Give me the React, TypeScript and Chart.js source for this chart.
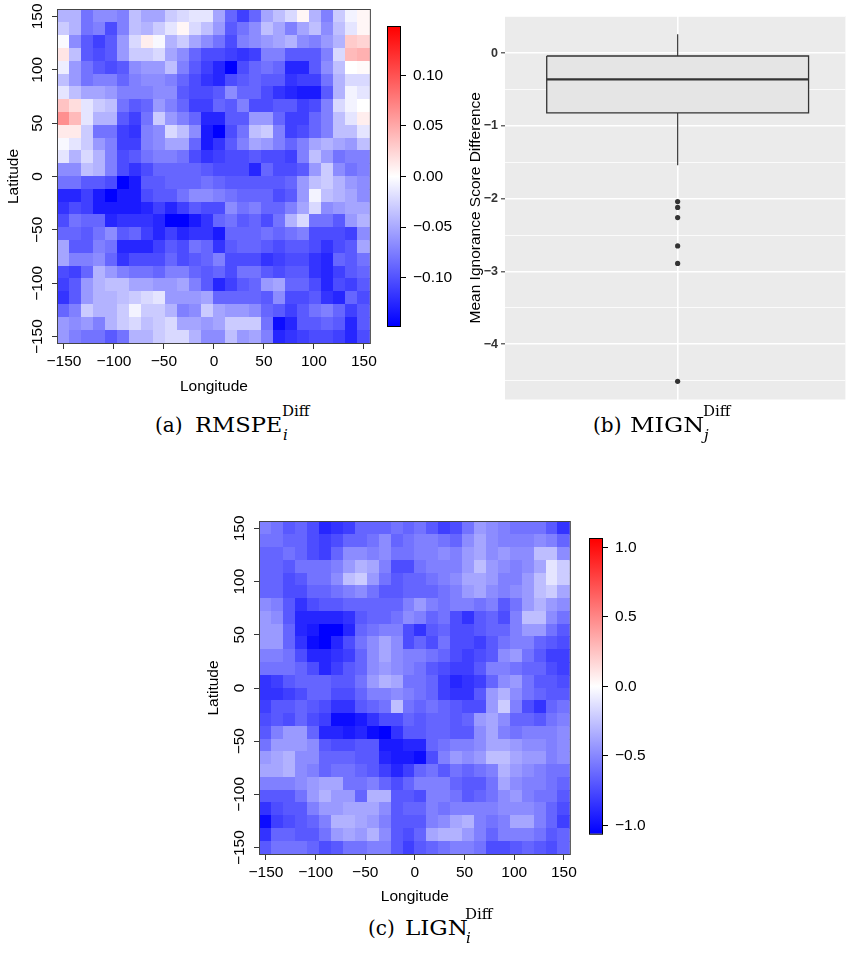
import React, { useEffect, useRef } from 'react';
import { Chart, registerables } from 'chart.js';

Chart.register(...registerables);

const SANS = '"Liberation Sans", Arial, Helvetica, sans-serif';
const SERIF = '"DejaVu Serif", serif';
Chart.defaults.font.family = SANS;

// ---------- shared grid ----------
const LON_CENTERS = [-150, -138, -126, -114, -102, -90, -78, -66, -54, -42, -30, -18, -6, 6, 18, 30, 42, 54, 66, 78, 90, 102, 114, 126, 138, 150];
const LAT_CENTERS = [150, 138, 126, 114, 102, 90, 78, 66, 54, 42, 30, 18, 6, -6, -18, -30, -42, -54, -66, -78, -90, -102, -114, -126, -138, -150];
const CELL_HALF = 6;
const MAP_EXTENT = 156;
const MAP_TICKS = [-150, -100, -50, 0, 50, 100, 150];

// ---------- (a) RMSPE difference, rows north -> south, columns west -> east ----------
const RMSPE_N150 = [-0.044,-0.044,-0.081,-0.067,-0.067,-0.074,-0.037,-0.052,-0.052,-0.030,-0.022,-0.015,-0.015,-0.052,-0.089,-0.111,-0.089,-0.052,-0.037,-0.022,0.005,-0.044,-0.074,-0.030,-0.007,0.005];
const RMSPE_N138 = [-0.030,-0.044,-0.081,-0.074,-0.104,-0.074,-0.037,-0.044,-0.030,-0.015,0.005,-0.022,-0.037,-0.059,-0.096,-0.081,-0.067,-0.037,-0.052,-0.074,-0.052,-0.037,-0.067,-0.037,-0.015,0.005];
const RMSPE_N126 = [-0.003,-0.067,-0.096,-0.111,-0.096,-0.059,-0.022,0.010,-0.004,-0.044,-0.030,-0.052,-0.067,-0.081,-0.104,-0.074,-0.067,-0.059,-0.052,-0.044,-0.067,-0.074,-0.059,-0.044,0.030,0.025];
const RMSPE_N114 = [0.015,-0.037,-0.096,-0.104,-0.096,-0.059,-0.030,-0.030,-0.022,-0.052,-0.067,-0.089,-0.104,-0.104,-0.111,-0.118,-0.111,-0.074,-0.074,-0.096,-0.096,-0.096,-0.074,-0.022,0.040,0.045];
const RMSPE_N102 = [-0.010,-0.059,-0.081,-0.096,-0.104,-0.096,-0.067,-0.059,-0.059,-0.037,-0.074,-0.096,-0.111,-0.126,-0.148,-0.104,-0.089,-0.081,-0.089,-0.126,-0.126,-0.096,-0.067,-0.037,0.000,0.003];
const RMSPE_N090 = [-0.037,-0.059,-0.081,-0.074,-0.074,-0.089,-0.074,-0.067,-0.067,-0.074,-0.089,-0.104,-0.118,-0.126,-0.104,-0.096,-0.089,-0.096,-0.096,-0.118,-0.111,-0.111,-0.081,-0.044,-0.022,-0.022];
const RMSPE_N078 = [-0.015,-0.037,-0.052,-0.052,-0.059,-0.074,-0.074,-0.074,-0.067,-0.067,-0.096,-0.104,-0.104,-0.096,-0.067,-0.089,-0.089,-0.104,-0.118,-0.126,-0.133,-0.133,-0.096,-0.044,-0.007,-0.015];
const RMSPE_N066 = [0.035,0.020,-0.015,-0.030,-0.037,-0.081,-0.096,-0.089,-0.059,-0.074,-0.089,-0.111,-0.111,-0.089,-0.096,-0.074,-0.104,-0.104,-0.096,-0.096,-0.111,-0.104,-0.074,-0.022,-0.007,0.000];
const RMSPE_N054 = [0.065,0.040,-0.015,-0.044,-0.044,-0.096,-0.111,-0.081,-0.030,-0.059,-0.074,-0.089,-0.126,-0.126,-0.096,-0.096,-0.059,-0.059,-0.089,-0.111,-0.111,-0.089,-0.074,-0.037,-0.015,0.010];
const RMSPE_N042 = [0.012,0.012,-0.030,-0.081,-0.081,-0.111,-0.118,-0.074,-0.067,-0.022,-0.037,-0.067,-0.133,-0.148,-0.104,-0.081,-0.037,-0.030,-0.074,-0.111,-0.104,-0.089,-0.074,-0.037,-0.037,-0.015];
const RMSPE_N030 = [-0.004,-0.015,-0.030,-0.059,-0.074,-0.111,-0.111,-0.074,-0.067,-0.052,-0.052,-0.089,-0.133,-0.118,-0.096,-0.074,-0.052,-0.059,-0.074,-0.089,-0.074,-0.052,-0.044,-0.052,-0.059,-0.037];
const RMSPE_N018 = [-0.015,-0.044,-0.022,-0.044,-0.074,-0.104,-0.096,-0.081,-0.074,-0.074,-0.081,-0.104,-0.118,-0.111,-0.104,-0.104,-0.096,-0.104,-0.104,-0.111,-0.074,-0.037,-0.059,-0.081,-0.074,-0.074];
const RMSPE_N006 = [-0.067,-0.067,-0.037,-0.044,-0.074,-0.104,-0.118,-0.104,-0.089,-0.089,-0.089,-0.089,-0.096,-0.104,-0.104,-0.104,-0.126,-0.089,-0.104,-0.104,-0.096,-0.059,-0.030,-0.067,-0.081,-0.074];
const RMSPE_S006 = [-0.081,-0.081,-0.096,-0.096,-0.104,-0.148,-0.133,-0.096,-0.096,-0.089,-0.089,-0.089,-0.081,-0.089,-0.096,-0.096,-0.096,-0.096,-0.096,-0.089,-0.059,-0.037,-0.030,-0.044,-0.059,-0.067];
const RMSPE_S018 = [-0.126,-0.126,-0.111,-0.133,-0.148,-0.133,-0.133,-0.104,-0.096,-0.096,-0.081,-0.067,-0.067,-0.074,-0.081,-0.089,-0.089,-0.089,-0.104,-0.096,-0.059,-0.007,-0.037,-0.044,-0.052,-0.067];
const RMSPE_S030 = [-0.118,-0.104,-0.111,-0.133,-0.133,-0.133,-0.133,-0.126,-0.111,-0.126,-0.111,-0.096,-0.104,-0.104,-0.067,-0.081,-0.074,-0.089,-0.089,-0.074,-0.052,-0.022,-0.067,-0.059,-0.052,-0.052];
const RMSPE_S042 = [-0.104,-0.081,-0.089,-0.089,-0.126,-0.118,-0.118,-0.118,-0.126,-0.148,-0.148,-0.133,-0.118,-0.089,-0.081,-0.096,-0.089,-0.104,-0.081,-0.044,-0.022,-0.081,-0.081,-0.096,-0.059,-0.044];
const RMSPE_S054 = [-0.089,-0.089,-0.096,-0.081,-0.067,-0.096,-0.089,-0.111,-0.126,-0.111,-0.126,-0.118,-0.118,-0.133,-0.089,-0.089,-0.089,-0.081,-0.089,-0.081,-0.074,-0.104,-0.104,-0.104,-0.111,-0.067];
const RMSPE_S066 = [-0.052,-0.096,-0.096,-0.074,-0.081,-0.126,-0.126,-0.126,-0.111,-0.096,-0.104,-0.081,-0.089,-0.118,-0.096,-0.089,-0.089,-0.096,-0.104,-0.096,-0.096,-0.104,-0.118,-0.104,-0.096,-0.052];
const RMSPE_S078 = [-0.052,-0.074,-0.074,-0.067,-0.089,-0.118,-0.104,-0.104,-0.104,-0.089,-0.104,-0.096,-0.089,-0.074,-0.104,-0.104,-0.104,-0.118,-0.111,-0.104,-0.104,-0.118,-0.126,-0.089,-0.096,-0.081];
const RMSPE_S090 = [-0.104,-0.111,-0.089,-0.044,-0.059,-0.074,-0.081,-0.081,-0.089,-0.074,-0.074,-0.089,-0.096,-0.089,-0.104,-0.081,-0.081,-0.096,-0.104,-0.096,-0.096,-0.118,-0.126,-0.111,-0.096,-0.089];
const RMSPE_S102 = [-0.111,-0.096,-0.059,-0.044,-0.037,-0.037,-0.052,-0.052,-0.059,-0.059,-0.052,-0.074,-0.096,-0.126,-0.111,-0.096,-0.089,-0.059,-0.052,-0.089,-0.089,-0.104,-0.126,-0.104,-0.111,-0.096];
const RMSPE_S114 = [-0.118,-0.096,-0.059,-0.044,-0.044,-0.037,-0.030,-0.022,-0.015,-0.059,-0.059,-0.059,-0.052,-0.089,-0.089,-0.089,-0.089,-0.096,-0.067,-0.104,-0.104,-0.096,-0.118,-0.126,-0.089,-0.104];
const RMSPE_S126 = [-0.089,-0.074,-0.030,-0.044,-0.044,-0.030,-0.007,-0.030,-0.030,-0.044,-0.074,-0.067,-0.030,-0.052,-0.059,-0.059,-0.067,-0.089,-0.096,-0.111,-0.096,-0.081,-0.074,-0.089,-0.111,-0.096];
const RMSPE_S138 = [-0.059,-0.067,-0.059,-0.074,-0.044,-0.030,-0.022,-0.037,-0.030,-0.022,-0.052,-0.052,-0.059,-0.052,-0.030,-0.030,-0.030,-0.081,-0.141,-0.126,-0.096,-0.096,-0.089,-0.096,-0.126,-0.096];
const RMSPE_S150 = [-0.059,-0.074,-0.081,-0.081,-0.096,-0.081,-0.044,-0.044,-0.030,-0.022,-0.022,-0.044,-0.067,-0.067,-0.037,-0.059,-0.052,-0.074,-0.126,-0.118,-0.111,-0.104,-0.104,-0.111,-0.126,-0.104];
const RMSPE_ROWS = [RMSPE_N150, RMSPE_N138, RMSPE_N126, RMSPE_N114, RMSPE_N102, RMSPE_N090, RMSPE_N078, RMSPE_N066, RMSPE_N054, RMSPE_N042, RMSPE_N030, RMSPE_N018, RMSPE_N006, RMSPE_S006, RMSPE_S018, RMSPE_S030, RMSPE_S042, RMSPE_S054, RMSPE_S066, RMSPE_S078, RMSPE_S090, RMSPE_S102, RMSPE_S114, RMSPE_S126, RMSPE_S138, RMSPE_S150];
const RMSPE_LIMIT = 0.148;
const RMSPE_BAR_TICKS = [-0.1, -0.05, 0, 0.05, 0.1];

// ---------- (c) LIGN difference ----------
const LIGN_N150 = [-0.53,-0.58,-0.69,-0.64,-0.74,-0.90,-0.85,-0.80,-0.64,-0.64,-0.64,-0.58,-0.64,-0.58,-0.69,-0.80,-0.74,-0.58,-0.42,-0.48,-0.53,-0.58,-0.58,-0.58,-0.69,-0.85];
const LIGN_N138 = [-0.58,-0.58,-0.64,-0.64,-0.74,-0.80,-0.74,-0.64,-0.64,-0.58,-0.48,-0.64,-0.58,-0.53,-0.53,-0.58,-0.64,-0.48,-0.37,-0.48,-0.53,-0.53,-0.53,-0.48,-0.53,-0.64];
const LIGN_N126 = [-0.64,-0.64,-0.58,-0.64,-0.74,-0.80,-0.64,-0.48,-0.48,-0.53,-0.48,-0.58,-0.58,-0.53,-0.53,-0.48,-0.53,-0.42,-0.37,-0.48,-0.42,-0.48,-0.48,-0.27,-0.27,-0.48];
const LIGN_N114 = [-0.64,-0.64,-0.69,-0.58,-0.58,-0.58,-0.53,-0.42,-0.32,-0.37,-0.53,-0.74,-0.74,-0.58,-0.53,-0.53,-0.53,-0.42,-0.27,-0.42,-0.48,-0.53,-0.48,-0.37,-0.11,-0.21];
const LIGN_N102 = [-0.64,-0.64,-0.74,-0.69,-0.58,-0.58,-0.48,-0.27,-0.21,-0.42,-0.58,-0.69,-0.64,-0.64,-0.58,-0.53,-0.48,-0.37,-0.37,-0.42,-0.53,-0.53,-0.42,-0.27,-0.11,-0.21];
const LIGN_N090 = [-0.64,-0.64,-0.74,-0.74,-0.64,-0.64,-0.58,-0.53,-0.48,-0.58,-0.69,-0.69,-0.64,-0.64,-0.64,-0.58,-0.53,-0.42,-0.37,-0.48,-0.53,-0.48,-0.42,-0.27,-0.21,-0.37];
const LIGN_N078 = [-0.48,-0.53,-0.69,-0.85,-0.74,-0.69,-0.69,-0.64,-0.64,-0.64,-0.64,-0.64,-0.53,-0.42,-0.53,-0.58,-0.53,-0.53,-0.58,-0.53,-0.69,-0.58,-0.42,-0.32,-0.42,-0.48];
const LIGN_N066 = [-0.42,-0.48,-0.69,-0.90,-0.90,-0.90,-0.90,-0.85,-0.69,-0.64,-0.64,-0.58,-0.48,-0.53,-0.64,-0.58,-0.74,-0.85,-0.69,-0.64,-0.74,-0.53,-0.27,-0.27,-0.48,-0.58];
const LIGN_N054 = [-0.42,-0.42,-0.64,-0.90,-0.95,-1.06,-1.06,-0.90,-0.64,-0.58,-0.53,-0.53,-0.74,-0.85,-0.69,-0.64,-0.74,-0.74,-0.69,-0.64,-0.64,-0.53,-0.42,-0.42,-0.58,-0.69];
const LIGN_N042 = [-0.42,-0.42,-0.64,-0.85,-1.01,-1.06,-0.90,-0.74,-0.58,-0.48,-0.37,-0.48,-0.74,-0.64,-0.74,-0.58,-0.74,-0.74,-0.80,-0.69,-0.58,-0.53,-0.53,-0.64,-0.69,-0.74];
const LIGN_N030 = [-0.53,-0.53,-0.58,-0.74,-0.90,-0.90,-0.85,-0.80,-0.64,-0.48,-0.37,-0.48,-0.53,-0.53,-0.58,-0.64,-0.74,-0.80,-0.74,-0.69,-0.48,-0.42,-0.58,-0.69,-0.80,-0.80];
const LIGN_N018 = [-0.58,-0.58,-0.58,-0.64,-0.74,-0.90,-0.80,-0.69,-0.64,-0.48,-0.42,-0.48,-0.53,-0.58,-0.69,-0.74,-0.80,-0.80,-0.69,-0.53,-0.53,-0.58,-0.64,-0.64,-0.74,-0.80];
const LIGN_N006 = [-0.85,-0.80,-0.69,-0.64,-0.64,-0.64,-0.69,-0.69,-0.58,-0.42,-0.32,-0.37,-0.58,-0.58,-0.64,-0.80,-0.90,-0.85,-0.80,-0.64,-0.48,-0.42,-0.58,-0.69,-0.69,-0.74];
const LIGN_S006 = [-0.85,-0.85,-0.80,-0.74,-0.64,-0.64,-0.74,-0.74,-0.64,-0.53,-0.53,-0.48,-0.53,-0.58,-0.64,-0.80,-0.85,-0.85,-0.69,-0.42,-0.32,-0.48,-0.58,-0.64,-0.69,-0.69];
const LIGN_S018 = [-0.80,-0.69,-0.69,-0.64,-0.69,-0.74,-0.85,-0.85,-0.69,-0.64,-0.58,-0.27,-0.58,-0.64,-0.58,-0.64,-0.69,-0.74,-0.74,-0.42,-0.21,-0.53,-0.74,-0.85,-0.64,-0.58];
const LIGN_S030 = [-0.74,-0.69,-0.74,-0.64,-0.74,-0.80,-1.01,-1.01,-0.95,-0.85,-0.74,-0.74,-0.64,-0.69,-0.64,-0.64,-0.69,-0.64,-0.42,-0.37,-0.48,-0.64,-0.64,-0.69,-0.58,-0.53];
const LIGN_S042 = [-0.69,-0.53,-0.42,-0.42,-0.64,-0.90,-0.90,-0.95,-0.90,-1.01,-1.06,-0.85,-0.69,-0.69,-0.64,-0.64,-0.69,-0.69,-0.48,-0.37,-0.53,-0.58,-0.53,-0.53,-0.53,-0.48];
const LIGN_S054 = [-0.58,-0.42,-0.42,-0.42,-0.48,-0.69,-0.74,-0.74,-0.69,-0.69,-0.95,-0.95,-0.90,-0.90,-0.64,-0.58,-0.53,-0.53,-0.48,-0.37,-0.37,-0.42,-0.48,-0.48,-0.53,-0.48];
const LIGN_S066 = [-0.42,-0.37,-0.32,-0.48,-0.48,-0.64,-0.64,-0.64,-0.69,-0.69,-0.90,-0.95,-0.95,-1.01,-0.74,-0.53,-0.42,-0.48,-0.42,-0.27,-0.27,-0.37,-0.42,-0.42,-0.53,-0.48];
const LIGN_S078 = [-0.37,-0.37,-0.32,-0.48,-0.53,-0.64,-0.58,-0.58,-0.64,-0.69,-0.80,-0.90,-0.80,-0.64,-0.58,-0.69,-0.58,-0.64,-0.58,-0.53,-0.32,-0.42,-0.48,-0.53,-0.58,-0.58];
const LIGN_S090 = [-0.53,-0.53,-0.53,-0.48,-0.42,-0.37,-0.37,-0.58,-0.58,-0.53,-0.64,-0.74,-0.64,-0.53,-0.53,-0.53,-0.64,-0.69,-0.69,-0.58,-0.37,-0.48,-0.53,-0.53,-0.58,-0.64];
const LIGN_S102 = [-0.69,-0.69,-0.69,-0.58,-0.42,-0.32,-0.42,-0.42,-0.64,-0.32,-0.32,-0.69,-0.69,-0.74,-0.53,-0.53,-0.58,-0.69,-0.64,-0.58,-0.48,-0.42,-0.53,-0.58,-0.58,-0.69];
const LIGN_S114 = [-0.85,-0.74,-0.69,-0.69,-0.53,-0.42,-0.42,-0.37,-0.37,-0.37,-0.48,-0.69,-0.64,-0.64,-0.53,-0.58,-0.53,-0.53,-0.53,-0.53,-0.48,-0.48,-0.48,-0.53,-0.64,-0.74];
const LIGN_S126 = [-1.01,-0.80,-0.74,-0.69,-0.64,-0.53,-0.32,-0.32,-0.37,-0.42,-0.53,-0.69,-0.69,-0.69,-0.53,-0.48,-0.37,-0.32,-0.53,-0.58,-0.53,-0.37,-0.37,-0.53,-0.64,-0.80];
const LIGN_S138 = [-0.85,-0.64,-0.64,-0.69,-0.69,-0.58,-0.42,-0.37,-0.42,-0.32,-0.48,-0.69,-0.74,-0.64,-0.37,-0.32,-0.32,-0.42,-0.53,-0.64,-0.53,-0.53,-0.53,-0.58,-0.69,-0.64];
const LIGN_S150 = [-0.69,-0.58,-0.58,-0.58,-0.64,-0.74,-0.69,-0.58,-0.58,-0.53,-0.53,-0.69,-0.80,-0.69,-0.64,-0.58,-0.53,-0.53,-0.58,-0.74,-0.74,-0.69,-0.64,-0.69,-0.74,-0.64];
const LIGN_ROWS = [LIGN_N150, LIGN_N138, LIGN_N126, LIGN_N114, LIGN_N102, LIGN_N090, LIGN_N078, LIGN_N066, LIGN_N054, LIGN_N042, LIGN_N030, LIGN_N018, LIGN_N006, LIGN_S006, LIGN_S018, LIGN_S030, LIGN_S042, LIGN_S054, LIGN_S066, LIGN_S078, LIGN_S090, LIGN_S102, LIGN_S114, LIGN_S126, LIGN_S138, LIGN_S150];
const LIGN_LIMIT = 1.06;
const LIGN_BAR_TICKS = [-1, -0.5, 0, 0.5, 1];

// ---------- (b) MIGN difference boxplot ----------
const MIGN_QUARTILES = [-0.82, -0.36, -0.04]; // Q1, median, Q3
const MIGN_WHISKERS = [-1.54, 0.26];
const MIGN_OUTLIERS = [-2.04, -2.12, -2.26, -2.65, -2.89, -4.51];
const MIGN_MAJOR = [-4, -3, -2, -1, 0];
const MIGN_MINOR = [-4.5, -3.5, -2.5, -1.5, -0.5, 0.5];
const MIGN_RANGE = [-4.76, 0.51];
const BOX_HALF = 0.455;

// ---------- helpers ----------
const signed = (v: number, d: number) => (v < 0 ? '\u2212' : '') + Math.abs(v).toFixed(d);

function divergingColor(v: number, lim: number) {
  const t = Math.max(-1, Math.min(1, v / lim));
  if (t < 0) {
    const c = Math.round(255 * (1 + t));
    return `rgb(${c},${c},255)`;
  }
  const c = Math.round(255 * (1 - t));
  return `rgb(255,${c},${c})`;
}

type Box = { x: number; y: number; w: number; h: number };

function Heatmap({ rows, limit, box, padTop, axisW, axisH }: { rows: number[][]; limit: number; box: Box; padTop: number; axisW: number; axisH: number }) {
  const ref = useRef<HTMLCanvasElement>(null);
  useEffect(() => {
    const pts: any[] = [];
    rows.forEach((row, i) => row.forEach((v, j) => pts.push({ x: LON_CENTERS[j], y: LAT_CENTERS[i], v })));
    const cells = {
      id: 'cells',
      beforeDatasetsDraw(chart: any) {
        const { ctx, chartArea: a, scales } = chart;
        const xs = scales.x, ys = scales.y;
        ctx.save();
        ctx.beginPath();
        ctx.rect(a.left, a.top, a.right - a.left, a.bottom - a.top);
        ctx.clip();
        for (const p of chart.data.datasets[0].data) {
          const x0 = Math.floor(xs.getPixelForValue(p.x - CELL_HALF));
          const x1 = Math.ceil(xs.getPixelForValue(p.x + CELL_HALF));
          const y0 = Math.floor(ys.getPixelForValue(p.y + CELL_HALF));
          const y1 = Math.ceil(ys.getPixelForValue(p.y - CELL_HALF));
          ctx.fillStyle = divergingColor(p.v, limit);
          ctx.fillRect(x0, y0, x1 - x0, y1 - y0);
        }
        ctx.restore();
      },
      afterDatasetsDraw(chart: any) {
        const { ctx, chartArea: a } = chart;
        ctx.save();
        ctx.strokeStyle = '#444';
        ctx.lineWidth = 1;
        ctx.strokeRect(a.left - 0.5, a.top - 0.5, a.right - a.left + 1, a.bottom - a.top + 1);
        ctx.restore();
      },
      afterDraw(chart: any) {
        const ys = chart.scales.y;
        const ctx = chart.ctx;
        ctx.save();
        ctx.font = `15.5px ${SANS}`;
        ctx.fillStyle = '#000';
        ctx.textAlign = 'center';
        ctx.textBaseline = 'middle';
        ys.ticks.forEach((t: any) => {
          const py = ys.getPixelForValue(t.value);
          ctx.save();
          ctx.translate(ys.right - 20, py);
          ctx.rotate(-Math.PI / 2);
          ctx.fillText(signed(t.value, 0), 0, 0);
          ctx.restore();
        });
        ctx.restore();
      },
    };
    const tickFont = { family: SANS, size: 15.5 };
    const chart = new Chart(ref.current as HTMLCanvasElement, {
      type: 'scatter',
      data: { datasets: [{ data: pts, pointRadius: 0, pointHoverRadius: 0 }] },
      options: {
        responsive: false,
        animation: false,
        layout: { padding: { left: 0, top: padTop, right: 10, bottom: 0 } },
        plugins: { legend: { display: false }, tooltip: { enabled: false } },
        scales: {
          x: {
            type: 'linear',
            min: -MAP_EXTENT,
            max: MAP_EXTENT,
            afterBuildTicks: (s: any) => { s.ticks = MAP_TICKS.map((value) => ({ value })); },
            afterFit: (s: any) => { s.height = axisH; },
            ticks: { callback: (v: any) => signed(Number(v), 0), font: tickFont, color: '#000', padding: 3, maxRotation: 0, minRotation: 0, autoSkip: false },
            grid: { drawOnChartArea: false, drawTicks: true, tickLength: 6, color: '#333' },
            border: { display: false },
            title: { display: true, text: 'Longitude', font: tickFont, color: '#000', padding: { top: 0, bottom: 4 } },
          },
          y: {
            type: 'linear',
            min: -MAP_EXTENT,
            max: MAP_EXTENT,
            afterBuildTicks: (s: any) => { s.ticks = MAP_TICKS.map((value) => ({ value })); },
            afterFit: (s: any) => { s.width = axisW; },
            ticks: { display: false },
            grid: { drawOnChartArea: false, drawTicks: true, tickLength: 6, color: '#333' },
            border: { display: false },
            title: { display: true, text: 'Latitude', font: tickFont, color: '#000', padding: { top: 4, bottom: 0 } },
          },
        },
      } as any,
      plugins: [cells],
    });
    return () => chart.destroy();
  }, []);
  return <canvas ref={ref} width={box.w} height={box.h} style={{ position: 'absolute', left: box.x, top: box.y, width: box.w, height: box.h }} />;
}

function ColorBar({ limit, ticks, decimals, box, pad }: { limit: number; ticks: number[]; decimals: number; box: Box; pad: { left: number; top: number; bottom: number } }) {
  const ref = useRef<HTMLCanvasElement>(null);
  useEffect(() => {
    const bar = {
      id: 'bar',
      beforeDatasetsDraw(chart: any) {
        const { ctx, chartArea: a, scales } = chart;
        const ys = scales.y;
        const top = ys.getPixelForValue(limit);
        const bot = ys.getPixelForValue(-limit);
        const mid = ys.getPixelForValue(0);
        const g = ctx.createLinearGradient(0, top, 0, bot);
        g.addColorStop(0, divergingColor(limit, limit));
        g.addColorStop((mid - top) / (bot - top), '#ffffff');
        g.addColorStop(1, divergingColor(-limit, limit));
        ctx.save();
        ctx.fillStyle = g;
        ctx.fillRect(a.left, top, a.right - a.left, bot - top);
        ctx.strokeStyle = '#000';
        ctx.lineWidth = 1;
        ctx.strokeRect(a.left - 0.5, top - 0.5, a.right - a.left + 1, bot - top + 1);
        ctx.restore();
      },
    };
    const chart = new Chart(ref.current as HTMLCanvasElement, {
      type: 'scatter',
      data: { datasets: [] },
      options: {
        responsive: false,
        animation: false,
        layout: { padding: { left: pad.left, top: pad.top, bottom: pad.bottom, right: 0 } },
        plugins: { legend: { display: false }, tooltip: { enabled: false } },
        scales: {
          x: { display: false, min: 0, max: 1 },
          y: {
            position: 'right',
            min: -limit,
            max: limit,
            afterBuildTicks: (s: any) => { s.ticks = ticks.map((value) => ({ value })); },
            afterFit: (s: any) => { s.width = box.w - pad.left - 12; },
            ticks: { callback: (v: any) => signed(Number(v), decimals), font: { family: SANS, size: 15.5 }, color: '#000', padding: 7, autoSkip: false },
            grid: { drawOnChartArea: false, drawTicks: true, tickLength: 6, color: '#000' },
            border: { display: false },
          },
        },
      } as any,
      plugins: [bar],
    });
    return () => chart.destroy();
  }, []);
  return <canvas ref={ref} width={box.w} height={box.h} style={{ position: 'absolute', left: box.x, top: box.y, width: box.w, height: box.h }} />;
}

function BoxPlot({ box }: { box: Box }) {
  const ref = useRef<HTMLCanvasElement>(null);
  useEffect(() => {
    const [q1, med, q3] = MIGN_QUARTILES;
    const [wLo, wHi] = MIGN_WHISKERS;
    const L = 1 - BOX_HALF, R = 1 + BOX_HALF;
    const panel = {
      id: 'panel',
      beforeDraw(chart: any) {
        const { ctx, chartArea: a } = chart;
        ctx.save();
        ctx.fillStyle = '#EBEBEB';
        ctx.fillRect(a.left, a.top, a.right - a.left, a.bottom - a.top);
        ctx.restore();
      },
    };
    const isMajor = (v: number) => MIGN_MAJOR.some((m) => Math.abs(m - v) < 1e-6);
    const line = { showLine: true, pointRadius: 0, pointHoverRadius: 0, fill: false };
    const chart = new Chart(ref.current as HTMLCanvasElement, {
      type: 'scatter',
      data: {
        datasets: [
          { ...line, data: [{ x: L, y: med }, { x: R, y: med }], borderColor: '#333', borderWidth: 2.2 },
          { ...line, data: [{ x: L, y: q3 }, { x: R, y: q3 }, { x: R, y: q1 }, { x: L, y: q1 }, { x: L, y: q3 }], fill: 'shape', backgroundColor: '#E5E5E5', borderColor: '#333', borderWidth: 1.3, borderJoinStyle: 'miter' },
          { ...line, data: [{ x: 1, y: q3 }, { x: 1, y: wHi }], borderColor: '#444', borderWidth: 1.3 },
          { ...line, data: [{ x: 1, y: q1 }, { x: 1, y: wLo }], borderColor: '#444', borderWidth: 1.3 },
          { data: MIGN_OUTLIERS.map((y) => ({ x: 1, y })), pointRadius: 2.6, pointHoverRadius: 2.6, backgroundColor: '#333', borderWidth: 0 },
        ],
      },
      options: {
        responsive: false,
        animation: false,
        layout: { padding: { left: 0, top: 16, right: 0, bottom: 8 } },
        plugins: { legend: { display: false }, tooltip: { enabled: false } },
        scales: {
          x: {
            type: 'linear',
            min: 0.4,
            max: 1.583,
            afterBuildTicks: (s: any) => { s.ticks = [{ value: 1 }]; },
            afterFit: (s: any) => { s.height = 0; },
            ticks: { display: false },
            grid: { color: '#ffffff', lineWidth: 1.6, drawTicks: false },
            border: { display: false },
          },
          y: {
            type: 'linear',
            min: MIGN_RANGE[0],
            max: MIGN_RANGE[1],
            afterBuildTicks: (s: any) => {
              s.ticks = [...MIGN_MINOR, ...MIGN_MAJOR].sort((a, b) => a - b).map((value) => ({ value }));
            },
            afterFit: (s: any) => { s.width = 55; },
            ticks: {
              callback: (v: any) => (isMajor(Number(v)) ? signed(Number(v), 0) : ''),
              font: { family: SANS, size: 12.5, weight: 'bold' },
              color: '#333',
              padding: 3,
              autoSkip: false,
            },
            grid: {
              color: '#ffffff',
              lineWidth: (c: any) => (c.tick && isMajor(c.tick.value) ? 1.6 : 0.8),
              tickColor: (c: any) => (c.tick && isMajor(c.tick.value) ? '#333' : 'rgba(0,0,0,0)'),
              tickWidth: 1.1,
              tickLength: 4,
              drawTicks: true,
            },
            border: { display: false },
            title: { display: true, text: 'Mean Ignorance Score Difference', font: { family: SANS, size: 15.5 }, color: '#000', padding: { top: 16, bottom: 0 } },
          },
        },
      } as any,
      plugins: [panel],
    });
    return () => chart.destroy();
  }, []);
  return <canvas ref={ref} width={box.w} height={box.h} style={{ position: 'absolute', left: box.x, top: box.y, width: box.w, height: box.h }} />;
}

// Caption: parts placed on a common baseline; the main word is stretched to the reference's wide serif.
function Caption({ baseline, tagLeft, mainLeft, scriptLeft, stretch, tag, main, sub }: { baseline: number; tagLeft: number; mainLeft: number; scriptLeft: number; stretch: number; tag: string; main: string; sub: string }) {
  const base = { position: 'absolute' as const, fontFamily: SERIF, lineHeight: 1, whiteSpace: 'nowrap' as const, color: '#000' };
  const mainTop = baseline - 17;
  const supTop = baseline - 15 - 12.75;
  const subTop = baseline + 9 - 12.75;
  return (
    <>
      <div style={{ ...base, left: tagLeft, top: mainTop, fontSize: 20 }}>({tag})</div>
      <div style={{ ...base, left: mainLeft, top: mainTop, fontSize: 20, transform: `scaleX(${stretch})`, transformOrigin: 'left top' }}>{main}</div>
      <div style={{ ...base, left: scriptLeft, top: supTop, fontSize: 15 }}>Diff</div>
      <div style={{ ...base, left: scriptLeft + 1, top: subTop, fontSize: 15, fontStyle: 'italic' }}>{sub}</div>
    </>
  );
}

export default function App() {
  return (
    <div style={{ position: 'absolute', left: 0, top: 0, width: 848, height: 957, background: '#fff', overflow: 'hidden' }}>
      <Heatmap rows={RMSPE_ROWS} limit={RMSPE_LIMIT} box={{ x: 0, y: 0, w: 380, h: 400 }} padTop={10} axisW={58} axisH={57} />
      <ColorBar limit={RMSPE_LIMIT} ticks={RMSPE_BAR_TICKS} decimals={2} box={{ x: 380, y: 0, w: 80, h: 345 }} pad={{ left: 8, top: 27, bottom: 19 }} />
      <BoxPlot box={{ x: 450, y: 0, w: 398, h: 410 }} />
      <Heatmap rows={LIGN_ROWS} limit={LIGN_LIMIT} box={{ x: 200, y: 510, w: 380, h: 400 }} padTop={12} axisW={60} axisH={56} />
      <ColorBar limit={LIGN_LIMIT} ticks={LIGN_BAR_TICKS} decimals={1} box={{ x: 580, y: 520, w: 80, h: 330 }} pad={{ left: 10, top: 19, bottom: 13 }} />
      <Caption baseline={432} tagLeft={155} mainLeft={195} scriptLeft={282} stretch={1.13} tag="a" main="RMSPE" sub="i" />
      <Caption baseline={432} tagLeft={593} mainLeft={630} scriptLeft={703} stretch={1.2} tag="b" main="MIGN" sub="j" />
      <Caption baseline={935} tagLeft={368} mainLeft={405} scriptLeft={465} stretch={1.15} tag="c" main="LIGN" sub="i" />
    </div>
  );
}
